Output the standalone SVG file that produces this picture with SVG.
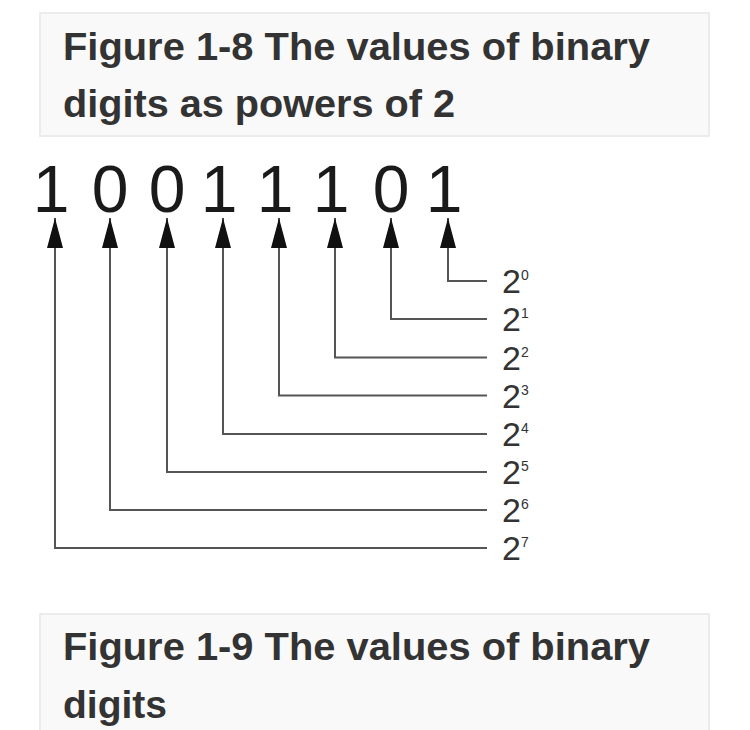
<svg xmlns="http://www.w3.org/2000/svg" width="750" height="730" viewBox="0 0 750 730">
<style>
.cap{fill:#f9f9f9;stroke:#ececec;stroke-width:2}
.title{font-family:"Liberation Sans",Arial,sans-serif;font-weight:bold;font-size:38px;fill:#333}
.digit{font-family:"Liberation Sans",Arial,sans-serif;font-size:66px;fill:#1a1a1a;text-anchor:middle;stroke:#fff;stroke-width:1.4;paint-order:stroke}
.base{font-family:"Liberation Sans",Arial,sans-serif;font-size:34px;fill:#333}
.exp{font-family:"Liberation Sans",Arial,sans-serif;font-size:14px;fill:#333}
.conn path{fill:none;stroke:#555;stroke-width:2}
</style>
<defs>
<marker id="ah" viewBox="0 0 30 16" refX="30" refY="8" markerWidth="30" markerHeight="16" markerUnits="userSpaceOnUse" orient="auto-start-reverse">
<path d="M0 0 L30 8 L0 16 Z" fill="#111"/>
</marker>
</defs>
<rect width="750" height="730" fill="#fff"/>
<g id="caption1">
<rect class="cap" x="40" y="13" width="669" height="123"/>
<text class="title" x="63" y="60" textLength="587" lengthAdjust="spacingAndGlyphs">Figure 1-8 The values of binary</text>
<text class="title" x="63" y="117" textLength="392" lengthAdjust="spacingAndGlyphs">digits as powers of 2</text>
</g>
<g id="caption2">
<rect class="cap" x="40" y="614" width="669" height="130"/>
<text class="title" x="63" y="660" textLength="587" lengthAdjust="spacingAndGlyphs">Figure 1-9 The values of binary</text>
<text class="title" x="63" y="718" textLength="104" lengthAdjust="spacingAndGlyphs">digits</text>
</g>
<g id="digits">
<text class="digit" x="51" y="212">1</text>
<text class="digit" x="110" y="212">0</text>
<text class="digit" x="167" y="212">0</text>
<text class="digit" x="219" y="212">1</text>
<text class="digit" x="275" y="212">1</text>
<text class="digit" x="331" y="212">1</text>
<text class="digit" x="391" y="212">0</text>
<text class="digit" x="444" y="212">1</text>
</g>
<g id="connectors" class="conn">
<path d="M448 218 V281 H487" marker-start="url(#ah)"/>
<path d="M391 218 V319 H487" marker-start="url(#ah)"/>
<path d="M335 218 V357.5 H487" marker-start="url(#ah)"/>
<path d="M279 218 V395.5 H487" marker-start="url(#ah)"/>
<path d="M223 218 V434 H487" marker-start="url(#ah)"/>
<path d="M167 218 V472 H487" marker-start="url(#ah)"/>
<path d="M110 218 V510 H487" marker-start="url(#ah)"/>
<path d="M55 218 V548 H487" marker-start="url(#ah)"/>
</g>
<g id="powers">
<g id="p0"><text class="base" x="502" y="293">2</text><text class="exp" x="521" y="280">0</text></g>
<g id="p1"><text class="base" x="502" y="331">2</text><text class="exp" x="521" y="318">1</text></g>
<g id="p2"><text class="base" x="502" y="370">2</text><text class="exp" x="521" y="357">2</text></g>
<g id="p3"><text class="base" x="502" y="408">2</text><text class="exp" x="521" y="395">3</text></g>
<g id="p4"><text class="base" x="502" y="446">2</text><text class="exp" x="521" y="433">4</text></g>
<g id="p5"><text class="base" x="502" y="484">2</text><text class="exp" x="521" y="471">5</text></g>
<g id="p6"><text class="base" x="502" y="522">2</text><text class="exp" x="521" y="509">6</text></g>
<g id="p7"><text class="base" x="502" y="560">2</text><text class="exp" x="521" y="547">7</text></g>
</g>
</svg>
